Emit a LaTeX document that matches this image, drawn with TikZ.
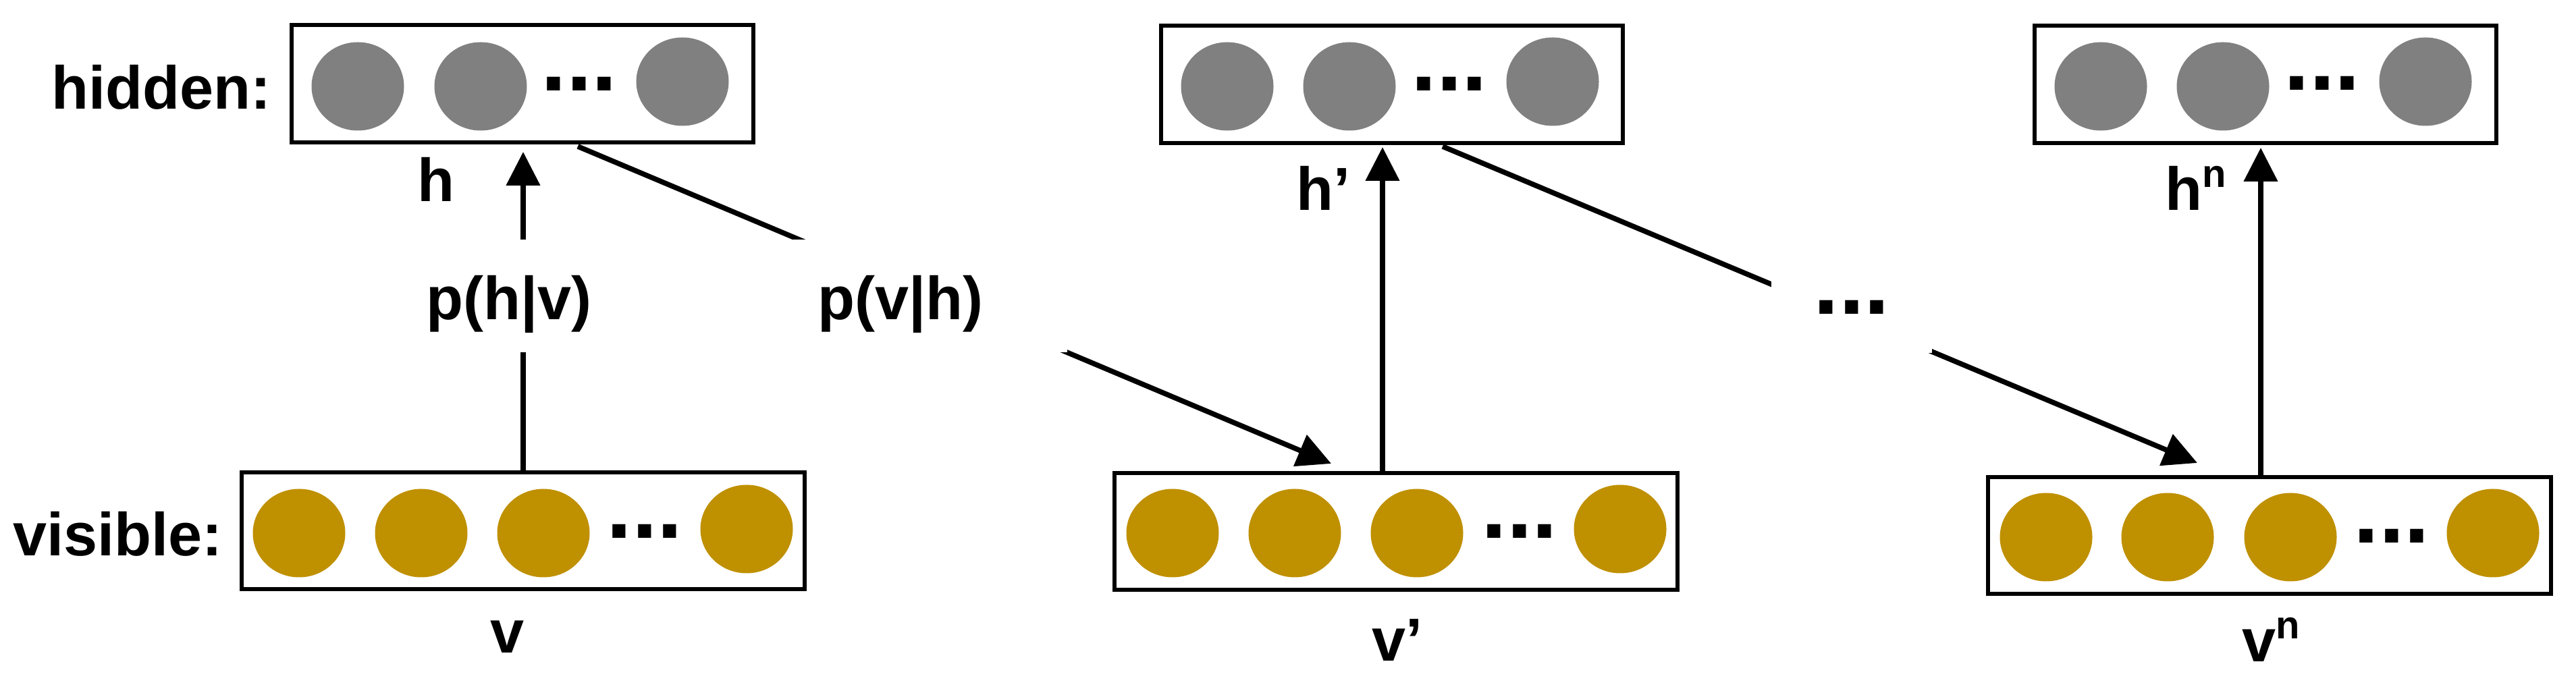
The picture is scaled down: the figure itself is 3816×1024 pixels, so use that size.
\documentclass[tikz,border=0pt]{standalone}
\usepackage{fontspec}
\setmainfont{Liberation Sans}
\usetikzlibrary{arrows.meta,shapes.geometric}
\definecolor{hidgray}{HTML}{808080}
\definecolor{visgold}{HTML}{BF9000}
\tikzset{
  layerbox/.style={draw=black, line width=1.5pt, fill=white, inner sep=0pt, outer sep=0pt},
  hbox/.style={layerbox, minimum width=171pt, minimum height=43.5pt},
  vbox/.style={layerbox, minimum width=208.5pt, minimum height=43.25pt},
  hunit/.style={ellipse, draw=none, fill=hidgray, inner sep=0pt, outer sep=0pt, minimum width=34.25pt, minimum height=32.75pt},
  vunit/.style={ellipse, draw=none, fill=visgold, inner sep=0pt, outer sep=0pt, minimum width=34.25pt, minimum height=32.75pt},
  dotsfont/.style={font=\fontsize{34pt}{34pt}\selectfont\bfseries},
  dotsx/.style={dotsfont, inner sep=0pt, anchor=base},
  txt/.style={font=\fontsize{22.5pt}{27pt}\selectfont\bfseries, inner sep=0pt},
  conn/.style={line width=1.9pt, draw=black},
  arr/.style={conn, -{Triangle[length=12.5pt,width=12.25pt]}},
  mask/.style={txt, fill=white, text height=20pt, text depth=2.25pt, minimum height=41.75pt},
}
\newcommand{\supn}{\raisebox{8.5pt}{\fontsize{14.5pt}{14.5pt}\selectfont n}}
\begin{document}
\begin{tikzpicture}[x=0.25pt,y=-0.25pt]
\useasboundingbox (0,0) rectangle (3816,1024);

% layer boxes
\node[hbox] (H1) at (774,124) {};
\node[hbox] (H2) at (2062,125) {};
\node[hbox] (H3) at (3356,125) {};
\node[vbox] (V1) at (774.5,787) {};
\node[vbox] (V2) at (2068,787.5) {};
\node[vbox] (V3) at (3362,793.5) {};

% units
\foreach \x/\y [count=\i] in {530/128, 712/128, 1011/121} \node[hunit] (ha\i) at (\x,\y) {};
\foreach \x/\y [count=\i] in {1818/128, 1999/128, 2300/121} \node[hunit] (hb\i) at (\x,\y) {};
\foreach \x/\y [count=\i] in {3112/128, 3293/128, 3593/121} \node[hunit] (hc\i) at (\x,\y) {};
\foreach \x/\y [count=\i] in {443/790, 624/790, 805/790, 1106/784} \node[vunit] (va\i) at (\x,\y) {};
\foreach \x/\y [count=\i] in {1737/790, 1918/790, 2099/790, 2400/784} \node[vunit] (vb\i) at (\x,\y) {};
\foreach \x/\y [count=\i] in {3031/796, 3211/796, 3393/796, 3693/790} \node[vunit] (vc\i) at (\x,\y) {};

% dots inside boxes
\node[dotsx] (hd1) at (858,135) {...};
\node[dotsx] (hd2) at (2147,135) {...};
\node[dotsx] (hd3) at (3440,134) {...};
\node[dotsx] (vd1) at (955,798) {...};
\node[dotsx] (vd2) at (2251,798) {...};
\node[dotsx] (vd3) at (3543,805) {...};

% connector end points
\coordinate (a1) at (775,225);
\coordinate (a2) at (2048,218);
\coordinate (a3) at (3349,219);
\coordinate (d1s) at (856,217);
\coordinate (t2) at (1972,687);
\coordinate (d2s) at (2137,217);
\coordinate (t3) at (3255,686);

% connectors
\draw[arr] (V1.north -| a1) -- (a1);
\draw[arr] (V2.north -| a2) -- (a2);
\draw[arr] (V3.north -| a3) -- (a3);
\draw[arr] (d1s) -- (t2);
\draw[arr] (d2s) -- (t3);

% labels on connectors (white background interrupts the lines)
\node[mask, minimum width=123.5pt] (phv) at (754,438.5) {p(h|v)};
\node[mask, minimum width=123.5pt] (pvh) at (1334,438.5) {p(v|h)};
\node[mask, dotsfont, minimum width=59.5pt, text height=13pt, text depth=0pt] (pdots) at (2743,440) {...};

% layer labels
\node[txt, anchor=base west] (lhid) at (76,162) {hidden:};
\node[txt, anchor=base west] (lvis) at (19,824) {visible:};
\node[txt, anchor=base] (lh1) at (646,299) {h};
\node[txt, anchor=base] (lv1) at (752,968) {v};
\node[txt, anchor=base] (lh2) at (1960,312) {h’};
\node[txt, anchor=base] (lv2) at (2070,980) {v’};
\node[txt, anchor=base] (lh3) at (3253,312) {h\supn};
\node[txt, anchor=base] (lv3) at (3364,981) {v\supn};
\end{tikzpicture}
\end{document}
